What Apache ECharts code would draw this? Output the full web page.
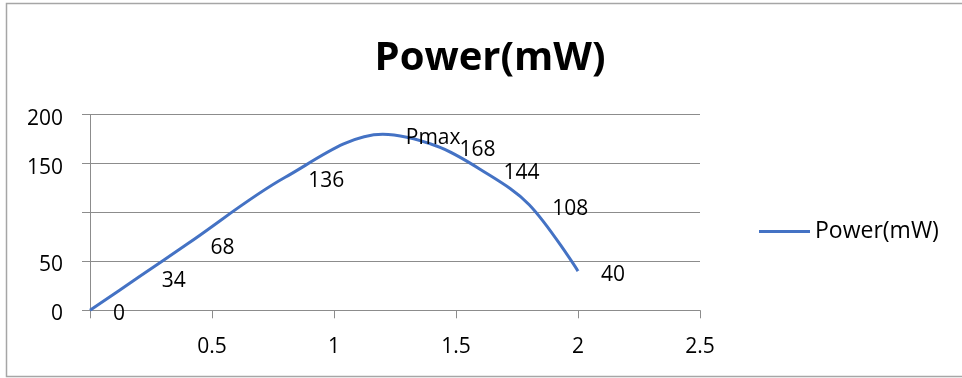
<!DOCTYPE html>
<html>
<head>
<meta charset="utf-8">
<script src="https://cdn.jsdelivr.net/npm/echarts@6/dist/echarts.min.js"></script>
<style>
html,body{margin:0;padding:0;background:#fff;}
#chart{width:962px;height:378px;}
</style>
</head>
<body>
<div id="chart"></div>
<script>
const xValues = [0, 0.2, 0.4, 0.8, 1.2, 1.42, 1.6, 1.8, 2.0];
const powerValues = [0, 34, 68, 136, 180, 168, 144, 108, 40];
const pointLabels = ['0', '34', '68', '136', 'Pmax', '168', '144', '108', '40'];
const yTickLabels = {0: '0', 50: '50', 100: '', 150: '150', 200: '200'};
const xTickLabels = {0: '', 0.5: '0.5', 1: '1', 1.5: '1.5', 2: '2', 2.5: '2.5'};
const seriesName = 'Power(mW)';

const FONT = '"Open Sans"';
const chart = echarts.init(document.getElementById('chart'), null, {renderer: 'canvas'});
chart.setOption({
  backgroundColor: '#fff',
  animation: false,
  title: {
    text: seriesName,
    left: 485,
    top: 34,
    textAlign: 'center',
    textStyle: {fontFamily: FONT, fontWeight: 'bold', fontSize: 40, color: '#000'}
  },
  legend: {
    data: [seriesName],
    left: 759,
    top: 220,
    padding: 0,
    icon: 'rect',
    itemWidth: 51,
    itemHeight: 3,
    textStyle: {fontFamily: FONT, fontSize: 23, color: '#000'}
  },
  grid: {left: 90, right: 262, top: 114.7, bottom: 67.7, containLabel: false},
  xAxis: {
    type: 'value',
    min: 0, max: 2.5, interval: 0.5,
    axisLine: {show: true, lineStyle: {color: '#8c8c8c', width: 1}},
    axisTick: {show: true, length: 8, inside: false, lineStyle: {color: '#8c8c8c'}},
    splitLine: {show: false},
    axisLabel: {
      margin: 26,
      fontFamily: FONT, fontSize: 21, color: '#000',
      formatter: v => xTickLabels[v] !== undefined ? xTickLabels[v] : String(v)
    }
  },
  yAxis: {
    type: 'value',
    min: 0, max: 200, interval: 50,
    axisLine: {show: true, lineStyle: {color: '#8c8c8c', width: 1}},
    axisTick: {show: true, length: 8, lineStyle: {color: '#8c8c8c'}},
    splitLine: {show: true, lineStyle: {color: '#8c8c8c', width: 1}},
    axisLabel: {
      margin: 27,
      verticalAlign: 'top',
      lineHeight: 8,
      fontFamily: FONT, fontSize: 21, color: '#000',
      formatter: v => yTickLabels[v] !== undefined ? yTickLabels[v] : String(v)
    }
  },
  series: [{
    name: seriesName,
    type: 'line',
    data: xValues.map((x, i) => [x, powerValues[i]]),
    smooth: 0.34,
    showSymbol: true,
    symbol: 'circle',
    symbolSize: 0,
    lineStyle: {color: '#4472C4', width: 3},
    itemStyle: {color: '#4472C4'},
    label: {
      show: true,
      position: [23, 4],
      align: 'left',
      verticalAlign: 'middle',
      fontFamily: FONT, fontSize: 21, color: '#000',
      formatter: p => pointLabels[p.dataIndex]
    },
    labelLayout: {hideOverlap: false}
  }],
  graphic: [{
    type: 'rect',
    shape: {x: 6.5, y: 3.5, width: 970, height: 373},
    style: {fill: 'none', stroke: '#a6a6a6', lineWidth: 1.5},
    silent: true,
    z: 0
  }]
});
</script>
</body>
</html>
